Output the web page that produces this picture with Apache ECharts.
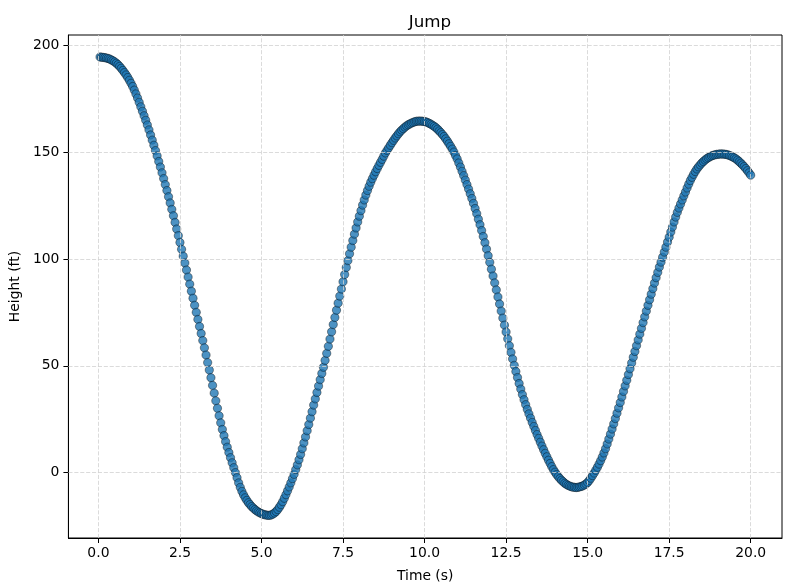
<!DOCTYPE html>
<html>
<head>
<meta charset="utf-8">
<script src="https://cdn.jsdelivr.net/npm/echarts@6/dist/echarts.min.js"></script>
<style>
html,body{margin:0;padding:0;background:#fff;}
#chart{width:792px;height:588px;}
</style>
</head>
<body>
<div id="chart"></div>
<script>
const titleText = 'Jump';
const xName = 'Time (s)';
const yName = 'Height (ft)';
const xTicks = [0, 2.5, 5, 7.5, 10, 12.5, 15, 17.5, 20];
const yTicks = [0, 50, 100, 150, 200];

const times = [
  0.05,0.10,0.15,0.20,0.25,0.30,0.35,0.40,0.45,0.50,
  0.55,0.60,0.65,0.70,0.75,0.80,0.85,0.90,0.95,1.00,
  1.05,1.10,1.15,1.20,1.25,1.30,1.35,1.40,1.45,1.50,
  1.55,1.60,1.65,1.70,1.75,1.80,1.85,1.90,1.95,2.00,
  2.05,2.10,2.15,2.20,2.25,2.30,2.35,2.40,2.45,2.50,
  2.55,2.60,2.65,2.70,2.75,2.80,2.85,2.90,2.95,3.00,
  3.05,3.10,3.15,3.20,3.25,3.30,3.35,3.40,3.45,3.50,
  3.55,3.60,3.65,3.70,3.75,3.80,3.85,3.90,3.95,4.00,
  4.05,4.10,4.15,4.20,4.25,4.30,4.35,4.40,4.45,4.50,
  4.55,4.60,4.65,4.70,4.75,4.80,4.85,4.90,4.95,5.00,
  5.05,5.10,5.15,5.20,5.25,5.30,5.35,5.40,5.45,5.50,
  5.55,5.60,5.65,5.70,5.75,5.80,5.85,5.90,5.95,6.00,
  6.05,6.10,6.15,6.20,6.25,6.30,6.35,6.40,6.45,6.50,
  6.55,6.60,6.65,6.70,6.75,6.80,6.85,6.90,6.95,7.00,
  7.05,7.10,7.15,7.20,7.25,7.30,7.35,7.40,7.45,7.50,
  7.55,7.60,7.65,7.70,7.75,7.80,7.85,7.90,7.95,8.00,
  8.05,8.10,8.15,8.20,8.25,8.30,8.35,8.40,8.45,8.50,
  8.55,8.60,8.65,8.70,8.75,8.80,8.85,8.90,8.95,9.00,
  9.05,9.10,9.15,9.20,9.25,9.30,9.35,9.40,9.45,9.50,
  9.55,9.60,9.65,9.70,9.75,9.80,9.85,9.90,9.95,10.00,
  10.05,10.10,10.15,10.20,10.25,10.30,10.35,10.40,10.45,10.50,
  10.55,10.60,10.65,10.70,10.75,10.80,10.85,10.90,10.95,11.00,
  11.05,11.10,11.15,11.20,11.25,11.30,11.35,11.40,11.45,11.50,
  11.55,11.60,11.65,11.70,11.75,11.80,11.85,11.90,11.95,12.00,
  12.05,12.10,12.15,12.20,12.25,12.30,12.35,12.40,12.45,12.50,
  12.55,12.60,12.65,12.70,12.75,12.80,12.85,12.90,12.95,13.00,
  13.05,13.10,13.15,13.20,13.25,13.30,13.35,13.40,13.45,13.50,
  13.55,13.60,13.65,13.70,13.75,13.80,13.85,13.90,13.95,14.00,
  14.05,14.10,14.15,14.20,14.25,14.30,14.35,14.40,14.45,14.50,
  14.55,14.60,14.65,14.70,14.75,14.80,14.85,14.90,14.95,15.00,
  15.05,15.10,15.15,15.20,15.25,15.30,15.35,15.40,15.45,15.50,
  15.55,15.60,15.65,15.70,15.75,15.80,15.85,15.90,15.95,16.00,
  16.05,16.10,16.15,16.20,16.25,16.30,16.35,16.40,16.45,16.50,
  16.55,16.60,16.65,16.70,16.75,16.80,16.85,16.90,16.95,17.00,
  17.05,17.10,17.15,17.20,17.25,17.30,17.35,17.40,17.45,17.50,
  17.55,17.60,17.65,17.70,17.75,17.80,17.85,17.90,17.95,18.00,
  18.05,18.10,18.15,18.20,18.25,18.30,18.35,18.40,18.45,18.50,
  18.55,18.60,18.65,18.70,18.75,18.80,18.85,18.90,18.95,19.00,
  19.05,19.10,19.15,19.20,19.25,19.30,19.35,19.40,19.45,19.50,
  19.55,19.60,19.65,19.70,19.75,19.80,19.85,19.90,19.95,20.00
];

const heights = [
  194.5,194.4,194.3,194.2,194.0,193.8,193.5,193.1,192.7,192.2,
  191.6,190.9,190.1,189.2,188.2,187.2,186.1,184.9,183.6,182.2,
  180.7,179.0,177.2,175.3,173.3,171.2,169.1,167.0,164.9,162.7,
  160.4,158.0,155.6,153.2,150.7,148.2,145.6,143.0,140.3,137.6,
  134.8,132.0,129.1,126.2,123.2,120.2,117.1,114.0,110.9,107.7,
  104.5,101.3,98.1,94.8,91.5,88.2,84.9,81.6,78.3,75.0,
  71.7,68.4,65.1,61.8,58.4,55.0,51.5,48.0,44.4,40.8,
  37.2,33.6,30.1,26.6,23.3,20.2,17.3,14.5,11.9,9.4,
  7.0,4.6,2.3,0.0,-2.4,-4.8,-6.9,-8.8,-10.4,-11.8,
  -13.0,-14.1,-15.0,-15.9,-16.6,-17.3,-17.9,-18.4,-18.8,-19.2,
  -19.5,-19.7,-19.9,-20.0,-20.0,-19.8,-19.4,-18.9,-18.2,-17.3,
  -16.2,-15.0,-13.6,-12.0,-10.3,-8.5,-6.7,-4.8,-2.8,-0.8,
  1.4,3.6,6.0,8.5,11.2,13.9,16.7,19.6,22.5,25.5,
  28.5,31.6,34.5,37.5,40.5,43.5,46.4,49.3,52.5,55.8,
  59.1,62.5,65.9,69.3,72.6,76.0,79.3,82.6,85.9,89.3,
  92.7,96.0,99.2,102.4,105.5,108.6,111.6,114.5,117.3,120.0,
  122.6,125.2,127.6,129.9,132.0,134.0,135.9,137.6,139.2,140.8,
  142.3,143.8,145.2,146.6,148.1,149.6,150.8,152.0,153.2,154.4,
  155.5,156.6,157.6,158.6,159.5,160.3,161.0,161.7,162.3,162.8,
  163.2,163.6,163.9,164.2,164.4,164.5,164.5,164.5,164.4,164.3,
  164.1,163.8,163.4,163.0,162.5,162.0,161.4,160.7,159.9,159.1,
  158.2,157.3,156.2,155.1,153.9,152.7,151.4,150.0,148.4,146.8,
  144.9,143.0,141.0,139.0,136.9,134.8,132.7,130.5,128.3,126.0,
  123.6,121.2,118.6,116.0,113.3,110.5,107.6,104.6,101.5,98.4,
  95.2,92.0,88.8,85.5,82.2,78.9,75.6,72.3,69.0,65.8,
  62.6,59.4,56.3,53.2,50.2,47.3,44.5,41.7,39.1,36.5,
  34.1,31.8,29.6,27.5,25.5,23.5,21.6,19.7,17.8,16.0,
  14.2,12.4,10.7,9.0,7.4,5.8,4.3,2.8,1.4,0.2,
  -0.9,-1.9,-2.8,-3.6,-4.3,-5.0,-5.5,-6.0,-6.3,-6.6,
  -6.8,-6.9,-7.0,-6.9,-6.7,-6.5,-6.2,-5.8,-5.3,-4.6,
  -3.7,-2.6,-1.4,-0.2,1.1,2.5,4.0,5.6,7.3,9.2,
  11.2,13.4,15.7,18.0,20.4,22.8,25.3,27.8,30.3,32.8,
  35.4,38.0,40.6,43.2,45.9,48.6,51.3,54.0,56.7,59.4,
  62.1,64.8,67.5,70.2,72.9,75.6,78.3,80.9,83.5,86.1,
  88.7,91.2,93.7,96.2,98.5,100.8,103.2,105.5,107.9,110.2,
  112.6,114.9,117.3,119.6,121.8,123.8,125.7,127.6,129.5,131.3,
  133.2,135.0,136.7,138.2,139.6,140.9,142.1,143.1,144.0,144.9,
  145.6,146.3,146.9,147.4,147.8,148.2,148.5,148.7,148.9,149.0,
  149.1,149.1,149.1,149.0,148.9,148.7,148.4,148.1,147.7,147.3,
  146.8,146.2,145.5,144.8,144.0,143.2,142.3,141.3,140.3,139.2
];

const FONT = 'DejaVu Sans';
const chart = echarts.init(document.getElementById('chart'), null, {renderer: 'canvas'});
const points = times.map((t, i) => [t, heights[i]]);
const gridLineStyle = {color: '#d2d2d2', width: 0.8, type: [4.1, 1.8]};

const option = {
  backgroundColor: '#ffffff',
  animation: false,
  title: {
    text: titleText,
    left: 425,
    top: 9,
    textAlign: 'center',
    textStyle: {fontFamily: FONT, fontSize: 16.7, fontWeight: 'normal', color: '#000'}
  },
  grid: {
    left: 68, top: 35, width: 714, height: 503,
    show: true, borderColor: '#000', borderWidth: 1, backgroundColor: 'transparent'
  },
  xAxis: {
    type: 'value',
    min: -0.92, max: 20.96,
    name: xName,
    nameLocation: 'middle',
    nameGap: 31,
    nameTextStyle: {fontFamily: FONT, fontSize: 13.9, color: '#000'},
    axisLine: {show: true, onZero: false, lineStyle: {color: '#000', width: 1}},
    axisTick: {show: true, length: 5, lineStyle: {color: '#000', width: 1}, customValues: xTicks},
    axisLabel: {fontFamily: FONT, fontSize: 13.9, color: '#000', margin: 8,
      customValues: xTicks, formatter: v => Number(v).toFixed(1)},
    splitLine: {show: false}
  },
  yAxis: {
    type: 'value',
    min: -30.6, max: 204.8,
    name: yName,
    nameLocation: 'middle',
    nameGap: 40,
    nameTextStyle: {fontFamily: FONT, fontSize: 13.9, color: '#000'},
    axisLine: {show: true, onZero: false, lineStyle: {color: '#000', width: 1}},
    axisTick: {show: true, length: 5, lineStyle: {color: '#000', width: 1}, customValues: yTicks},
    axisLabel: {fontFamily: FONT, fontSize: 13.9, color: '#000', margin: 9,
      customValues: yTicks, formatter: v => String(Math.round(v))},
    splitLine: {show: false}
  },
  series: [
    {
      type: 'scatter',
      data: [],
      z: 1,
      silent: true,
      markLine: {
        silent: true,
        symbol: ['none', 'none'],
        label: {show: false},
        lineStyle: gridLineStyle,
        animation: false,
        data: xTicks.map(v => ({xAxis: v})).concat(yTicks.map(v => ({yAxis: v})))
      }
    },
    {
      type: 'scatter',
      data: points,
      z: 3,
      symbol: 'circle',
      symbolSize: 8.3,
      itemStyle: {color: '#1f77b4', opacity: 0.8, borderColor: '#000000', borderWidth: 0.5}
    }
  ]
};
chart.setOption(option);
</script>
</body>
</html>
